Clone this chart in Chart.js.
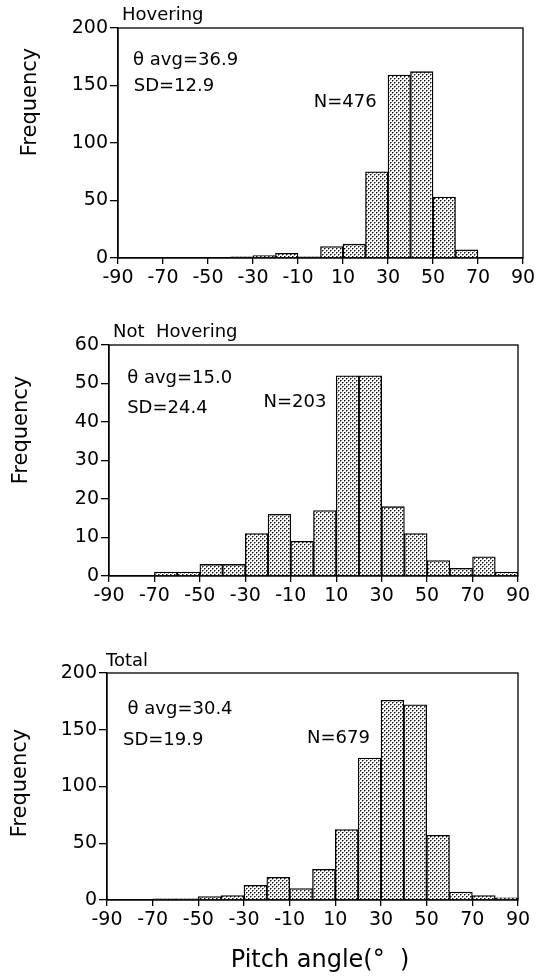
<!DOCTYPE html>
<html>
<head>
<meta charset="utf-8">
<script src="https://cdn.jsdelivr.net/npm/chart.js@4/dist/chart.umd.min.js"></script>
<style>
  html, body { margin: 0; padding: 0; background: #fff; }
  #page { position: relative; width: 556px; height: 976px; overflow: hidden; }
  canvas { position: absolute; left: 0; }
</style>
</head>
<body>
<div id="page">
  <canvas id="hovering" width="556" height="292" style="top:0px"></canvas>
  <canvas id="notHovering" width="556" height="310" style="top:300px"></canvas>
  <canvas id="total" width="556" height="366" style="top:610px"></canvas>
</div>
<script>
// bin centres (pitch angle, 10 degree bins from -90 to 90)
const binCentres = [-85, -75, -65, -55, -45, -35, -25, -15, -5, 5, 15, 25, 35, 45, 55, 65, 75, 85];
const xTicks = [-90, -70, -50, -30, -10, 10, 30, 50, 70, 90];

// counts
const hoveringCounts    = [0, 0, 0, 0, 0, 1, 2, 4, 1, 10, 12, 75, 159, 162, 53, 7, 0, 0];
const notHoveringCounts = [0, 0, 1, 1, 3, 3, 11, 16, 9, 17, 52, 52, 18, 11, 4, 2, 5, 1];
const totalCounts       = [0, 0, 1, 1, 3, 4, 13, 20, 10, 27, 62, 125, 176, 172, 57, 7, 4, 2];

const FONT = '"DejaVu Sans", "Liberation Sans", sans-serif';

// stippled fill like the printed figure
function dotPattern() {
    const c = document.createElement('canvas');
    c.width = 4; c.height = 4;
    const g = c.getContext('2d');
    g.fillStyle = '#fff';
    g.fillRect(0, 0, 4, 4);
    g.fillStyle = '#888';
    g.fillRect(1, 0, 1, 1);
    g.fillRect(0, 1, 1, 1);
    g.fillRect(3, 2, 1, 1);
    g.fillRect(2, 3, 1, 1);
    g.fillStyle = '#111';
    g.fillRect(0, 0, 1, 1);
    g.fillRect(2, 2, 1, 1);
    return g.createPattern(c, 'repeat');
}

// frame, panel title, stats and axis titles
const panelText = {
    id: 'panelText',
    afterDraw(chart, args, o) {
        const { ctx, chartArea: a, scales: { x, y } } = chart;
        ctx.save();
        ctx.strokeStyle = '#000';
        ctx.lineWidth = 1.3;
        ctx.strokeRect(a.left, a.top, a.width, a.height);

        ctx.fillStyle = '#000';
        ctx.font = '18px ' + FONT;
        ctx.textAlign = 'left';
        ctx.textBaseline = 'alphabetic';
        ctx.fillText(o.title, a.left + o.titleDx, a.top - o.titleDy);

        o.notes.forEach(n => {
            ctx.fillText(n.text, x.getPixelForValue(n.x), y.getPixelForValue(n.y));
        });

        ctx.save();
        ctx.translate(o.yTitle[0], o.yTitle[1]);
        ctx.rotate(-Math.PI / 2);
        ctx.textAlign = 'center';
        ctx.textBaseline = 'middle';
        ctx.font = '21px ' + FONT;
        ctx.fillText('Frequency', 0, 0);
        ctx.restore();

        if (o.xTitle) {
            ctx.textAlign = 'center';
            ctx.font = '24px ' + FONT;
            ctx.fillText(o.xTitle.text, o.xTitle.pos[0], o.xTitle.pos[1]);
        }
        ctx.restore();
    }
};

function makeHistogram(id, counts, yMax, yStep, box, text) {
    const ctx = document.getElementById(id);
    return new Chart(ctx, {
        type: 'bar',
        data: {
            labels: binCentres,
            datasets: [{
                data: counts,
                backgroundColor: dotPattern(),
                borderColor: '#000',
                borderWidth: 1.3,
                borderSkipped: 'start',
                barPercentage: 1,
                categoryPercentage: 1
            }]
        },
        plugins: [panelText],
        options: {
            responsive: false,
            animation: false,
            layout: { padding: { left: 0, right: box.right, top: box.top, bottom: 0 } },
            plugins: {
                legend: { display: false },
                tooltip: { enabled: false },
                panelText: text
            },
            scales: {
                x: {
                    type: 'linear',
                    min: -90,
                    max: 90,
                    offset: false,
                    afterBuildTicks: s => { s.ticks = xTicks.map(v => ({ value: v })); },
                    afterFit: s => { s.height = box.xHeight; },
                    grid: { display: true, offset: false, drawOnChartArea: false, drawTicks: true, tickLength: 6, color: '#000', lineWidth: 1.3 },
                    border: { display: true, color: '#000', width: 1.3 },
                    ticks: { color: '#000', font: { family: FONT, size: 19 }, padding: 3, maxRotation: 0, autoSkip: false }
                },
                y: {
                    min: 0,
                    max: yMax,
                    ticks: { stepSize: yStep, color: '#000', font: { family: FONT, size: 19 }, padding: 2 },
                    afterFit: s => { s.width = box.left; },
                    grid: { display: true, drawOnChartArea: false, drawTicks: true, tickLength: 8, color: '#000', lineWidth: 1.3 },
                    border: { display: true, color: '#000', width: 1.3 }
                }
            }
        }
    });
}

makeHistogram('hovering', hoveringCounts, 200, 50,
    { left: 118, right: 33, top: 28, xHeight: 34 },
    {
        title: 'Hovering', titleDx: 4, titleDy: 8, yTitle: [31, 102],
        notes: [
            { text: 'θ avg=36.9', x: -83.3, y: 168 },
            { text: 'SD=12.9', x: -83, y: 145 },
            { text: 'N=476', x: -3, y: 131 }
        ]
    });

makeHistogram('notHovering', notHoveringCounts, 60, 10,
    { left: 109, right: 38, top: 45, xHeight: 34 },
    {
        title: 'Not  Hovering', titleDx: 4, titleDy: 8, yTitle: [22, 130],
        notes: [
            { text: 'θ avg=15.0', x: -82, y: 50.2 },
            { text: 'SD=24.4', x: -82, y: 42.4 },
            { text: 'N=203', x: -22, y: 44 }
        ]
    });

makeHistogram('total', totalCounts, 200, 50,
    { left: 107, right: 38, top: 63, xHeight: 76 },
    {
        title: 'Total', titleDx: -1, titleDy: 7, yTitle: [21, 173],
        notes: [
            { text: 'θ avg=30.4', x: -81, y: 164 },
            { text: 'SD=19.9', x: -83, y: 136.6 },
            { text: 'N=679', x: -2.4, y: 138 }
        ],
        xTitle: { text: 'Pitch angle(°  )', pos: [320, 357] }
    });
</script>
</body>
</html>
